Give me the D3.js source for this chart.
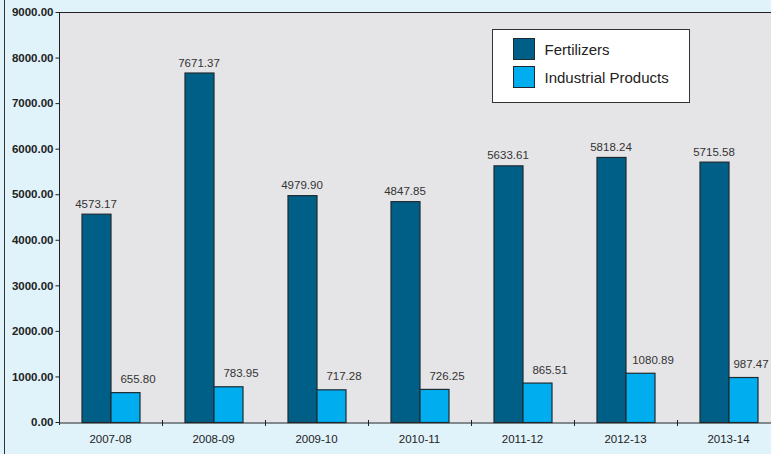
<!DOCTYPE html>
<html>
<head>
<meta charset="utf-8">
<script src="https://cdn.jsdelivr.net/npm/d3@7"></script>
<style>
  body{margin:0;background:#e0f2fa;}
  svg{display:block;font-family:"Liberation Sans",Arial,sans-serif;}
</style>
</head>
<body>
<svg width="771" height="454"></svg>
<script>
const years=["2007-08","2008-09","2009-10","2010-11","2011-12","2012-13","2013-14"]
const fertilizers=[4573.17,7671.37,4979.90,4847.85,5633.61,5818.24,5715.58]
const industrial=[655.80,783.95,717.28,726.25,865.51,1080.89,987.47]
const seriesNames=["Fertilizers","Industrial Products"]
const yTicks=[0,1000,2000,3000,4000,5000,6000,7000,8000,9000]

const colors=["#005f87","#00aeef"]

const svg=d3.select("svg")
const plotLeft=59,plotTop=12,plotBottom=422,step=103

svg.append("rect").attr("width",771).attr("height",454).attr("fill","#e0f2fa")
svg.append("line").attr("x1",4.5).attr("x2",4.5).attr("y1",0).attr("y2",454).attr("stroke","#333")

const x=d3.scaleBand().domain(years).range([plotLeft,plotLeft+step*years.length]).padding(0)
const x1=d3.scaleBand().domain(seriesNames).range([22.5,80.5]).padding(0)
const y=d3.scaleLinear().domain([0,9000]).range([plotBottom,plotTop])

// plot background
svg.append("rect").attr("x",plotLeft).attr("y",plotTop).attr("width",771-plotLeft).attr("height",plotBottom-plotTop).attr("fill","#e5e5e7")
svg.append("line").attr("x1",plotLeft).attr("x2",771).attr("y1",plotTop+0.5).attr("y2",plotTop+0.5).attr("stroke","#222")

const data=years.map((yr,i)=>({year:yr,vals:[fertilizers[i],industrial[i]]}))

const g=svg.selectAll(".grp").data(data).enter().append("g")
  .attr("transform",d=>`translate(${x(d.year)},0)`)

g.selectAll("rect").data(d=>d.vals.map((v,j)=>({v:v,s:seriesNames[j],j:j}))).enter().append("rect")
  .attr("x",d=>x1(d.s)+0.5)
  .attr("y",d=>y(d.v)+0.5)
  .attr("width",x1.bandwidth())
  .attr("height",d=>plotBottom-y(d.v))
  .attr("fill",d=>colors[d.j])
  .attr("stroke","#1e2a30")
  .attr("stroke-width",1.2)

g.selectAll("text.val").data(d=>d.vals.map((v,j)=>({v:v,s:seriesNames[j],j:j,year:d.year}))).enter().append("text")
  .attr("class","val")
  .attr("x",d=>{
    let cx=x1(d.s)+x1.bandwidth()/2+(d.j==1?13:0)
    // keep the last label inside the picture
    return Math.min(cx,771-x(d.year)-20)
  })
  .attr("y",d=>y(d.v)-(d.j==1?9:6))
  .attr("text-anchor","middle")
  .attr("font-size",11.5)
  .attr("fill","#333")
  .text(d=>d3.format(".2f")(d.v))

// y axis
const yAxis=svg.append("g").attr("transform",`translate(${plotLeft+0.5},0)`)
  .call(d3.axisLeft(y).tickValues(yTicks).tickFormat(d3.format(".2f")).tickSize(4).tickSizeOuter(0))
yAxis.select(".domain").attr("stroke","#222").attr("d",`M0,${plotTop}V${plotBottom+3}`)
yAxis.selectAll(".tick line").attr("stroke","#222")
yAxis.selectAll(".tick text").attr("font-size",11.5).attr("font-weight","bold").attr("fill","#222")
  .attr("font-family","Liberation Sans,Arial,sans-serif").attr("x",-6)

// x axis
const xAxis=svg.append("g").attr("transform",`translate(0,${plotBottom+0.5})`)
  .call(d3.axisBottom(x).tickSize(0).tickSizeOuter(0))
xAxis.select(".domain").attr("stroke","#222")
xAxis.selectAll(".tick text").attr("font-size",11.5).attr("fill","#222")
  .attr("font-family","Liberation Sans,Arial,sans-serif").attr("dy",0).attr("y",20)
svg.append("g").selectAll("line").data(years.slice(1)).enter().append("line")
  .attr("x1",d=>x(d)+0.5).attr("x2",d=>x(d)+0.5)
  .attr("y1",plotBottom-2).attr("y2",plotBottom+4)
  .attr("stroke","#222")

// legend
const legend=svg.append("g").attr("transform","translate(492.5,29.5)")
legend.append("rect").attr("width",197).attr("height",73).attr("fill","#fff").attr("stroke","#333")
seriesNames.forEach((n,i)=>{
  legend.append("rect").attr("x",21).attr("y",9+i*28).attr("width",21).attr("height",21)
    .attr("fill",colors[i]).attr("stroke","#1e2a30")
  legend.append("text").attr("x",52).attr("y",25+i*28).attr("font-size",15).attr("fill","#222").text(n)
})
</script>
</body>
</html>
